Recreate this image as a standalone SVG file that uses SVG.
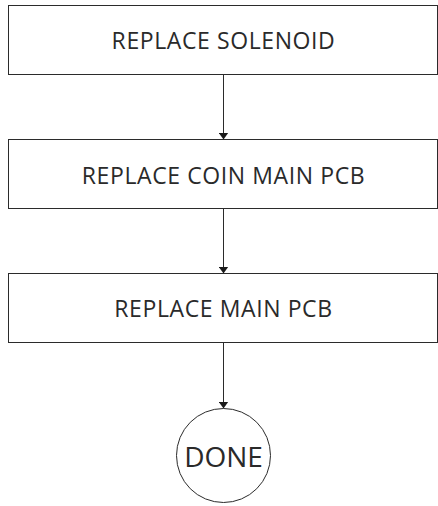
<svg xmlns="http://www.w3.org/2000/svg" width="438" height="506" viewBox="0 0 438 506">
<style>
.box{fill:#fff;stroke:#2b2b2b;stroke-width:1}
.t{font-family:"Open Sans","Noto Sans",sans-serif;font-size:23px;letter-spacing:0.6px;fill:#2a2a2a;text-anchor:middle}
.d{font-size:28px;letter-spacing:0}
.c{stroke:#2b2b2b;stroke-width:1;fill:none}
</style>
<defs>
<marker id="ah" markerWidth="7" markerHeight="10" refX="7" refY="5" orient="auto" markerUnits="userSpaceOnUse">
<path d="M0,0 L7,5 L0,10 Z" fill="#1a1a1a"/>
</marker>
</defs>
<rect width="438" height="506" fill="#fff"/>
<g id="connectors">
<line class="c" x1="223.5" y1="74.5" x2="223.5" y2="139.5" marker-end="url(#ah)"/>
<line class="c" x1="223.5" y1="208.5" x2="223.5" y2="273.5" marker-end="url(#ah)"/>
<line class="c" x1="223.5" y1="342.5" x2="223.5" y2="408.5" marker-end="url(#ah)"/>
</g>
<g id="n1">
<rect class="box" x="8.5" y="5.5" width="429" height="69"/>
<text class="t" x="223.5" y="49">REPLACE SOLENOID</text>
</g>
<g id="n2">
<rect class="box" x="8.5" y="139.5" width="429" height="69"/>
<text class="t" x="223.5" y="184">REPLACE COIN MAIN PCB</text>
</g>
<g id="n3">
<rect class="box" x="8.5" y="273.5" width="429" height="69"/>
<text class="t" x="223.5" y="317">REPLACE MAIN PCB</text>
</g>
<g id="n4">
<circle class="box" cx="223.5" cy="455.5" r="47"/>
<text class="t d" x="223.5" y="466.5">DONE</text>
</g>
</svg>
